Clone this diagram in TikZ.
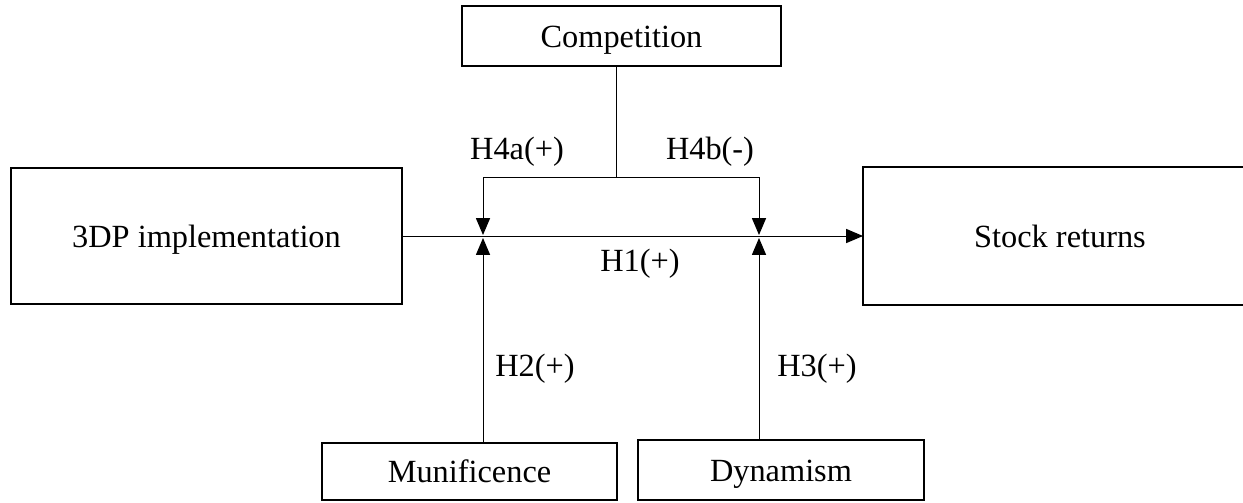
\documentclass[tikz,border=0pt]{standalone}
\usepackage{fontspec}
\setmainfont{Liberation Serif}
\usetikzlibrary{calc,arrows.meta}

\tikzset{
  box/.style={draw,line width=1.4pt,inner sep=0pt,font=\fontsize{23}{27}\selectfont,text height=16pt,text depth=0pt},
  link/.style={line width=0.7pt},
  arr/.style={link,-{Triangle[length=12pt,width=10pt]}},
  lab/.style={font=\fontsize{23}{27}\selectfont}
}

\begin{document}
\begin{tikzpicture}[x=0.025cm,y=-0.025cm]
                      \useasboundingbox (0,0) rectangle (1243,502);
                      \node[box,minimum width=319*0.025cm,minimum height=60*0.025cm](comp)at(621.5,36){Competition};
                      \node[box,minimum width=391*0.025cm,minimum height=136*0.025cm](impl)at(206.5,236){3DP implementation};
                      \node[box,draw=none,minimum width=392*0.025cm,minimum height=136*0.025cm](stock)at(1060,236){Stock returns};
                      \draw[line width=1.4pt](stock.north east)--(stock.north west)--(stock.south west)--(stock.south east);
                      \node[box,minimum width=295*0.025cm,minimum height=57*0.025cm](muni)at(469.5,471.5){Munificence};
                      \node[box,minimum width=286*0.025cm,minimum height=60*0.025cm](dyna)at(781,470){Dynamism};
                      \coordinate(split)at(616,177);
                      \coordinate(ja)at(483,236);
                      \coordinate(jb)at(759,236);
                      \draw[arr](impl.east)--(stock.west);
                      \draw[link](comp.south-|split)--(split);
                      \draw[arr](split)-|($(ja)+(0,-1)$);
                      \draw[arr](split)-|($(jb)+(0,-1)$);
                      \draw[arr](muni.north-|ja)--($(ja)+(0,2)$);
                      \draw[arr](dyna.north-|jb)--($(jb)+(0,2)$);
                      \node[lab]at(517,152){H4a(+)};
                      \node[lab]at(710,152){H4b(-)};
                      \node[lab]at(640,264){H1(+)};
                      \node[lab]at(535,369){H2(+)};
                      \node[lab]at(817,369){H3(+)};
                  \end{tikzpicture}
\end{document}
